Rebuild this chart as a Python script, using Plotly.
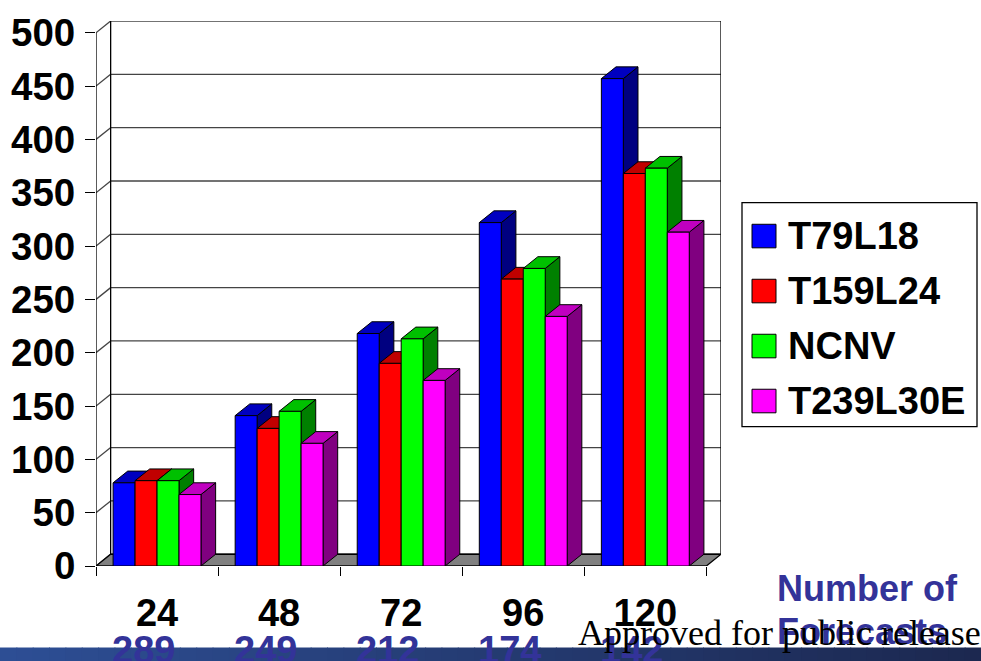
import plotly.graph_objects as go

# ---- data -------------------------------------------------------------
CATEGORIES = ["24", "48", "72", "96", "120"]          # forecast hour
FORECAST_COUNTS = ["289", "249", "212", "174", "142"]  # number of forecasts
SERIES_NAMES = ["T79L18", "T159L24", "NCNV", "T239L30E"]
T79L18 = [78, 141, 218, 322, 457]
T159L24 = [80, 129, 190, 269, 368]
NCNV = [80, 145, 213, 279, 373]
T239L30E = [67, 115, 174, 234, 313]
Y_TICKS = [0, 50, 100, 150, 200, 250, 300, 350, 400, 450, 500]
Y_MAX = 500

SERIES_VALUES = [T79L18, T159L24, NCNV, T239L30E]

# ---- styling ----------------------------------------------------------
FRONT = ["#0000FF", "#FF0000", "#00FF00", "#FF00FF"]
TOP = ["#0000C0", "#C00000", "#00C000", "#C000C0"]
SIDE = ["#000080", "#800000", "#008000", "#800080"]
LABEL_BLUE = "#333399"
SANS = "Liberation Sans, Arial, sans-serif"
SERIF = "Liberation Serif, Times New Roman, serif"

DX = 0.12          # depth offset along the category axis
DY = 11            # depth offset along the value axis
BAR_SPAN = 0.72    # share of a category occupied by the bar group
BW = BAR_SPAN / len(SERIES_NAMES)

W, H = 981, 661
PLOT_L, PLOT_T, PLOT_R, PLOT_B = 96, 11, 260, 95
PLOT_W = W - PLOT_L - PLOT_R
PLOT_H = H - PLOT_T - PLOT_B


def paper_x(px):
    return (px - PLOT_L) / PLOT_W


def paper_y(py):
    return (PLOT_T + PLOT_H - py) / PLOT_H


fig = go.Figure()

# ---- 3-D bars: painted left to right so each bar hides its neighbour's side
for c in range(len(CATEGORIES)):
    for i, vals in enumerate(SERIES_VALUES):
        v = vals[c]
        left = c - BAR_SPAN / 2 + i * BW
        right = left + BW
        faces = [
            ([right, right + DX, right + DX, right, right],
             [0, DY, v + DY, v, 0], SIDE[i]),
            ([left, right, right + DX, left + DX, left],
             [v, v, v + DY, v + DY, v], TOP[i]),
            ([left, right, right, left, left],
             [0, 0, v, v, 0], FRONT[i]),
        ]
        for xs, ys, col in faces:
            fig.add_trace(go.Scatter(
                x=xs, y=ys, mode="lines", fill="toself", fillcolor=col,
                line=dict(color="black", width=1), showlegend=False,
                hoverinfo="skip", name=SERIES_NAMES[i]))

shapes = []
x0, x1 = -0.5, len(CATEGORIES) - 0.5
grid = dict(color="#444444", width=1.3)
# back wall and side wall gridlines
for t in Y_TICKS:
    shapes.append(dict(type="line", xref="x", yref="y", layer="below",
                       x0=x0 + DX, x1=x1 + DX, y0=t + DY, y1=t + DY, line=grid))
    shapes.append(dict(type="line", xref="x", yref="y", layer="below",
                       x0=x0, x1=x0 + DX, y0=t, y1=t + DY, line=grid))
# wall edges
edge = dict(color="black", width=1.3)
shapes.append(dict(type="line", xref="x", yref="y", layer="below",
                   x0=x0 + DX, x1=x0 + DX, y0=DY, y1=Y_MAX + DY, line=edge))
shapes.append(dict(type="line", xref="x", yref="y", layer="below",
                   x0=x1 + DX, x1=x1 + DX, y0=DY, y1=Y_MAX + DY, line=edge))
shapes.append(dict(type="line", xref="x", yref="y", layer="below",
                   x0=x0, x1=x0, y0=0, y1=Y_MAX, line=edge))
# floor
shapes.append(dict(type="path", xref="x", yref="y", layer="below",
                   path=f"M {x0},0 L {x0 + DX},{DY} L {x1 + DX},{DY} L {x1},0 Z",
                   fillcolor="#808080", line=dict(color="black", width=1.3)))

# bottom banner with a horizontal gradient
n_steps = 60
c_left, c_right = (45, 78, 148), (28, 40, 80)
for k in range(n_steps):
    f = k / (n_steps - 1)
    col = tuple(round(a + (b - a) * f) for a, b in zip(c_left, c_right))
    shapes.append(dict(type="rect", xref="paper", yref="paper", layer="above",
                       x0=paper_x(W * k / n_steps), x1=paper_x(W * (k + 1) / n_steps + 1),
                       y0=paper_y(H + 2), y1=paper_y(649),
                       fillcolor="rgb(%d,%d,%d)" % col, line=dict(width=0)))

# legend box and swatches
LEG_TOP, LEG_STEP = 230, 56
shapes.append(dict(type="rect", xref="paper", yref="paper",
                   x0=paper_x(742), x1=paper_x(977),
                   y0=paper_y(424), y1=paper_y(196),
                   fillcolor="white", line=dict(color="black", width=1.3)))
annotations = []
for k, name in enumerate(SERIES_NAMES):
    cy = LEG_TOP + k * LEG_STEP
    shapes.append(dict(type="rect", xref="paper", yref="paper",
                       x0=paper_x(752), x1=paper_x(776),
                       y0=paper_y(cy + 12), y1=paper_y(cy - 12),
                       fillcolor=FRONT[k], line=dict(color="black", width=1)))
    annotations.append(dict(xref="paper", yref="paper", x=paper_x(786), y=paper_y(cy),
                            xanchor="left", yanchor="middle", showarrow=False,
                            text=name, font=dict(family=SANS, size=38, color="black",
                                                 weight="bold")))

# number of forecasts under each category
for c, n in enumerate(FORECAST_COUNTS):
    annotations.append(dict(xref="x", yref="paper", x=c, xshift=-14, y=paper_y(652),
                            xanchor="center", yanchor="middle", showarrow=False,
                            text=n, font=dict(family=SANS, size=38, color=LABEL_BLUE,
                                              weight="bold")))
annotations.append(dict(xref="paper", yref="paper", x=paper_x(775), y=paper_y(589),
                        xanchor="left", yanchor="middle", showarrow=False,
                        text="Number of", font=dict(family=SANS, size=36, color=LABEL_BLUE,
                                                    weight="bold")))
annotations.append(dict(xref="paper", yref="paper", x=paper_x(775), y=paper_y(633),
                        xanchor="left", yanchor="middle", showarrow=False,
                        text="Forecasts", font=dict(family=SANS, size=36, color=LABEL_BLUE,
                                                    weight="bold")))
annotations.append(dict(xref="paper", yref="paper", x=paper_x(576), y=paper_y(634),
                        xanchor="left", yanchor="middle", showarrow=False,
                        text="Approved for public release",
                        font=dict(family=SERIF, size=36, color="black")))

fig.update_layout(
    width=W, height=H,
    margin=dict(l=PLOT_L, r=PLOT_R, t=PLOT_T, b=PLOT_B),
    paper_bgcolor="white", plot_bgcolor="white",
    showlegend=False,
    shapes=shapes, annotations=annotations,
    xaxis=dict(
        range=[x0, x1 + DX], showgrid=False, zeroline=False, showline=False,
        tickmode="array", tickvals=list(range(len(CATEGORIES))), ticktext=CATEGORIES,
        ticks="", ticklabelstandoff=21,
        tickfont=dict(family=SANS, size=38, color="black", weight="bold"),
        minor=dict(tickmode="array",
                   tickvals=[c - 0.5 for c in range(len(CATEGORIES) + 1)],
                   ticks="outside", ticklen=9, tickwidth=1.3, tickcolor="black"),
        fixedrange=True,
    ),
    yaxis=dict(
        range=[0, Y_MAX + DY], showgrid=False, zeroline=False, showline=False,
        tickmode="array", tickvals=Y_TICKS,
        ticks="outside", ticklen=10, tickwidth=1.3, tickcolor="black",
        ticklabelstandoff=2,
        tickfont=dict(family=SANS, size=38.5, color="black", weight="bold"),
        fixedrange=True,
    ),
)

fig.write_html("out.html")
